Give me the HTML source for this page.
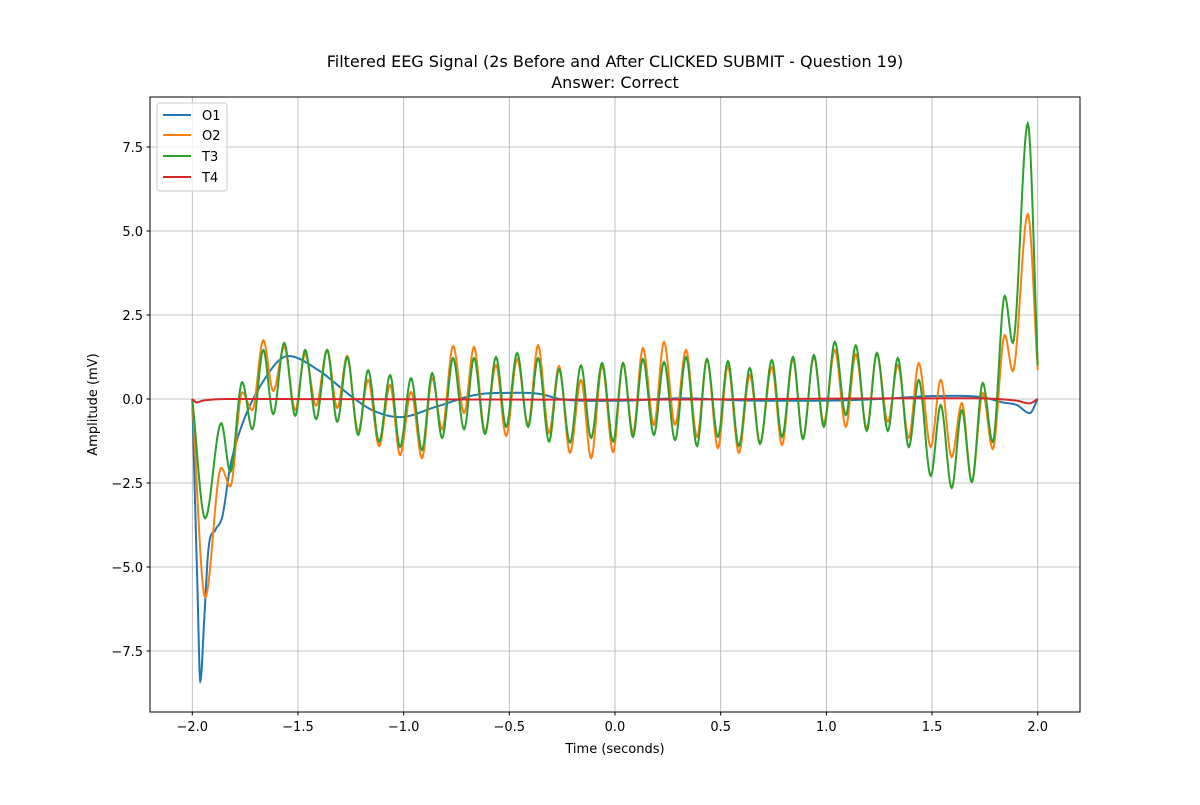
<!DOCTYPE html>
<html><head><meta charset="utf-8"><style>
body{margin:0;background:#fff;font-family:"Liberation Sans","DejaVu Sans",sans-serif}
svg text{font-family:"DejaVu Sans","Liberation Sans",sans-serif}
</style></head><body>
<svg id="chart" width="1200" height="800" xmlns="http://www.w3.org/2000/svg">
<rect width="1200" height="800" fill="#fff"/>
<text x="615" y="67" font-size="16" text-anchor="middle">Filtered EEG Signal (2s Before and After CLICKED SUBMIT - Question 19)</text>
<text x="615" y="88" font-size="16" text-anchor="middle">Answer: Correct</text>
<g id="grid"></g>
<g id="series"></g>
<rect x="150" y="97" width="930" height="615" fill="none" stroke="#000" stroke-width="1"/>
<g id="ticks"></g>
<text x="615" y="753" font-size="13" text-anchor="middle">Time (seconds)</text>
<text transform="translate(97,404.5) rotate(-90)" font-size="13" text-anchor="middle">Amplitude (mV)</text>
<g>
<rect x="157" y="103" width="70" height="88" rx="3" fill="#fff" fill-opacity="0.8" stroke="#ccc"/>
<g><line x1="163" y1="115" x2="191" y2="115" stroke="#1f77b4" stroke-width="2"/><text x="202" y="120" font-size="13">O1</text></g>
<g><line x1="163" y1="135" x2="191" y2="135" stroke="#ff7f0e" stroke-width="2"/><text x="202" y="140" font-size="13">O2</text></g>
<g><line x1="163" y1="156" x2="191" y2="156" stroke="#2ca02c" stroke-width="2"/><text x="202" y="161" font-size="13">T3</text></g>
<g><line x1="163" y1="177" x2="191" y2="177" stroke="#d62728" stroke-width="2"/><text x="202" y="182" font-size="13">T4</text></g>
</g>
</svg>
<script>
const xTicks=[-2.0,-1.5,-1.0,-0.5,0.0,0.5,1.0,1.5,2.0];
const yTicks=[-7.5,-5.0,-2.5,0.0,2.5,5.0,7.5];
// extremum times shared by O2 and T3
const tExt=[-2.000,-1.939,-1.863,-1.820,-1.764,-1.716,-1.664,-1.617,-1.565,-1.513,
-1.466,-1.414,-1.362,-1.314,-1.267,-1.215,-1.168,-1.116,-1.064,-1.017,
-0.965,-0.913,-0.865,-0.818,-0.766,-0.714,-0.667,-0.615,-0.563,-0.515,
-0.463,-0.411,-0.364,-0.312,-0.265,-0.213,-0.161,-0.113,-0.061,-0.009,
0.038,0.085,0.132,0.184,0.232,0.284,0.336,0.388,0.435,0.487,
0.534,0.586,0.638,0.686,0.742,0.790,0.842,0.889,0.941,0.988,
1.040,1.092,1.139,1.191,1.239,1.291,1.338,1.390,1.437,1.494,
1.541,1.593,1.641,1.688,1.740,1.787,1.844,1.882,1.953,2.000];
const t3Vals=[0,-3.55,-0.72,-2.17,0.5,-0.9,1.46,-0.45,1.67,-0.5,
1.46,-0.6,1.46,-0.68,1.25,-1.07,0.86,-1.27,0.71,-1.43,
0.62,-1.52,0.77,-1.16,1.22,-0.9,1.22,-1.04,1.25,-0.83,
1.37,-0.83,1.22,-1.27,0.89,-1.3,1.0,-1.16,1.07,-1.27,
1.07,-1.13,1.19,-1.07,1.1,-1.22,1.25,-1.4,1.19,-1.13,
1.13,-1.4,0.92,-1.34,1.16,-1.13,1.25,-1.19,1.31,-0.83,
1.7,-0.48,1.6,-0.95,1.37,-0.95,1.22,-1.43,0.57,-2.29,
-0.18,-2.65,-0.33,-2.47,0.48,-1.28,3.07,1.67,8.2,1.0];
const o2Vals=[0,-5.9,-2.05,-2.6,0.2,-0.33,1.75,0.24,1.55,-0.33,
1.34,-0.2,1.46,-0.27,1.28,-0.98,0.57,-1.4,0.42,-1.67,
0.21,-1.76,0.62,-0.9,1.58,-0.42,1.55,-0.98,1.01,-1.1,
1.19,-0.77,1.6,-1.01,0.98,-1.6,0.57,-1.76,0.98,-1.58,
1.07,-1.01,1.52,-0.77,1.7,-0.77,1.46,-1.13,1.19,-1.46,
0.98,-1.6,0.71,-1.31,0.95,-1.37,1.19,-1.16,1.25,-0.71,
1.46,-0.83,1.34,-0.86,1.37,-0.68,1.01,-1.16,1.07,-1.43,
0.57,-1.73,-0.12,-2.47,0.18,-1.49,1.9,0.83,5.5,0.86];
const o1Times=[-2.0,-1.976,-1.962,-1.943,-1.924,-1.891,-1.858,-1.820,-1.773,-1.669,-1.546,-1.404,-1.243,-1.149,-1.017,-0.851,-0.662,-0.544,-0.355,-0.260,0.024,0.307,0.686,0.969,1.253,1.522,1.740,1.834,1.901,1.962,2.0];
const o1Vals=[0,-5.5,-8.4,-6.5,-4.5,-3.9,-3.5,-2.0,-0.92,0.48,1.28,0.86,0.06,-0.33,-0.54,-0.24,0.12,0.18,0.15,0.0,-0.05,0.02,-0.05,-0.05,0.0,0.09,0.05,-0.1,-0.18,-0.42,0];
const t4Times=[-2.0,-1.98,-1.95,-1.8,0.0,1.5,1.9,1.96,2.0];
const t4Vals=[0,-0.1,-0.05,0,-0.02,0.02,-0.05,-0.13,0];

const X0=150,X1=1080,Y0=97,Y1=712,xmin=-2.2,xmax=2.2,ymin=-9.315,ymax=8.988;
const sx=t=>X0+(t-xmin)/(xmax-xmin)*(X1-X0);
const sy=v=>Y1-(v-ymin)/(ymax-ymin)*(Y1-Y0);
const NS="http://www.w3.org/2000/svg";
const grid=document.getElementById('grid'),ticks=document.getElementById('ticks'),ser=document.getElementById('series');
function mk(tag,attrs,parent){const e=document.createElementNS(NS,tag);for(const k in attrs)e.setAttribute(k,attrs[k]);parent.appendChild(e);return e;}
const fmt=v=>(v<0?'\u2212':'')+Math.abs(v).toFixed(1);
xTicks.forEach(t=>{const x=sx(t);
 const g=mk('line',{x1:x,x2:x,y1:Y0,y2:Y1,stroke:'#b0b0b0','stroke-width':0.8},grid);
 
 
 mk('line',{x1:x,x2:x,y1:Y1,y2:Y1+3.5,stroke:'#000'},ticks);
 const tx=mk('text',{x:x,y:Y1+19,'font-size':13,'text-anchor':'middle'},ticks);tx.textContent=fmt(t);
 
 
});
yTicks.forEach(v=>{const y=sy(v);
 const g=mk('line',{x1:X0,x2:X1,y1:y,y2:y,stroke:'#b0b0b0','stroke-width':0.8},grid);
 
 
 mk('line',{x1:X0-3.5,x2:X0,y1:y,y2:y,stroke:'#000'},ticks);
 const tx=mk('text',{x:X0-7,y:y+5,'font-size':13,'text-anchor':'end'},ticks);tx.textContent=fmt(v);
 
 
});
// Hermite with zero slope at interior extrema
function extremaPath(ts,vs){let d='';const n=ts.length;
 const m=ts.map((t,i)=>(i==0)?(vs[1]-vs[0])/(ts[1]-ts[0]):(i==n-1)?(vs[n-1]-vs[n-2])/(ts[n-1]-ts[n-2]):0);
 return herm(ts,vs,m);}
function monoPath(ts,vs){const n=ts.length,dl=[],m=[];
 for(let i=0;i<n-1;i++)dl.push((vs[i+1]-vs[i])/(ts[i+1]-ts[i]));
 for(let i=0;i<n;i++){if(i==0)m.push(dl[0]);else if(i==n-1)m.push(dl[n-2]);else m.push(dl[i-1]*dl[i]<=0?0:(dl[i-1]+dl[i])/2);}
 return herm(ts,vs,m);}
function herm(ts,vs,m){let d='M'+sx(ts[0]).toFixed(2)+','+sy(vs[0]).toFixed(2);
 for(let i=0;i<ts.length-1;i++){const h=ts[i+1]-ts[i];
  for(let k=1;k<=16;k++){const s=k/16,s2=s*s,s3=s2*s;
   const v=(2*s3-3*s2+1)*vs[i]+(s3-2*s2+s)*h*m[i]+(-2*s3+3*s2)*vs[i+1]+(s3-s2)*h*m[i+1];
   d+='L'+sx(ts[i]+s*h).toFixed(2)+','+sy(v).toFixed(2);}}
 return d;}
const o1=mk('path',{d:monoPath(o1Times,o1Vals),fill:'none',stroke:'#1f77b4','stroke-width':2},ser);


const o2=mk('path',{d:extremaPath(tExt,o2Vals),fill:'none',stroke:'#ff7f0e','stroke-width':2},ser);


const t3=mk('path',{d:extremaPath(tExt,t3Vals),fill:'none',stroke:'#2ca02c','stroke-width':2},ser);


const t4=mk('path',{d:monoPath(t4Times,t4Vals),fill:'none',stroke:'#d62728','stroke-width':2},ser);


</script>
</body></html>
